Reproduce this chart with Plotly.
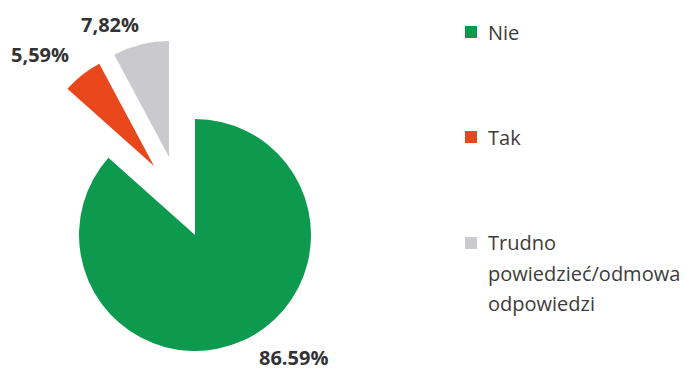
import plotly.graph_objects as go

# ── data ─────────────────────────────────────────────
labels = ["Nie", "Tak", "Trudno powiedzieć/odmowa odpowiedzi"]
values = [86.59, 5.59, 7.82]
value_text = ["86.59%", "5,59%", "7,82%"]
legend_lines = [["Nie"], ["Tak"], ["Trudno", "powiedzieć/odmowa", "odpowiedzi"]]
colors = ["#0E9A4E", "#E8471C", "#C9C9CE"]

W, H = 699, 370
R = 116  # pie radius, px

# pie centre per slice (px, from top-left); red and grey are pulled out
centres = [(195, 235), (154, 166), (169, 157)]
label_pos = [(293, 357), (40, 54), (110, 25)]
legend_y = [32, 137, 243]


def domain(cx, cy):
    return dict(x=[(cx - R) / W, (cx + R) / W],
                y=[(H - cy - R) / H, (H - cy + R) / H])


fig = go.Figure()
for i, (cx, cy) in enumerate(centres):
    cols = [c if j == i else "rgba(0,0,0,0)" for j, c in enumerate(colors)]
    fig.add_trace(go.Pie(
        labels=labels, values=values, sort=False, direction="clockwise",
        rotation=0, domain=domain(cx, cy), textinfo="none",
        marker=dict(colors=cols, line=dict(width=0)),
        hoverinfo="label+percent", showlegend=False,
    ))

# percentage labels
for txt, (x, y) in zip(value_text, label_pos):
    fig.add_annotation(x=x / W, y=1 - y / H, xref="paper", yref="paper",
                       xanchor="center", yanchor="middle",
                       text=f"<b>{txt}</b>", showarrow=False,
                       font=dict(family="Open Sans", size=20, color="#333333"))

# legend drawn by hand (wide spacing as in original)
for lines, y, c in zip(legend_lines, legend_y, colors):
    fig.add_shape(type="rect", xref="paper", yref="paper",
                  x0=465 / W, x1=477 / W,
                  y0=1 - (y + 6) / H, y1=1 - (y - 6) / H,
                  fillcolor=c, line=dict(width=0))
    for k, ln in enumerate(lines):
        fig.add_annotation(x=486 / W, y=1 - (y + k * 30) / H,
                           xref="paper", yref="paper",
                           xanchor="left", yanchor="middle",
                           text=ln, showarrow=False,
                           font=dict(family="Open Sans", size=20, color="#3c3c3c"))

fig.update_layout(width=W, height=H, margin=dict(l=0, r=0, t=0, b=0),
                  paper_bgcolor="white", plot_bgcolor="white")
fig.write_html("out.html", config={"displayModeBar": False},
               post_script="document.body.style.margin='0px';")
